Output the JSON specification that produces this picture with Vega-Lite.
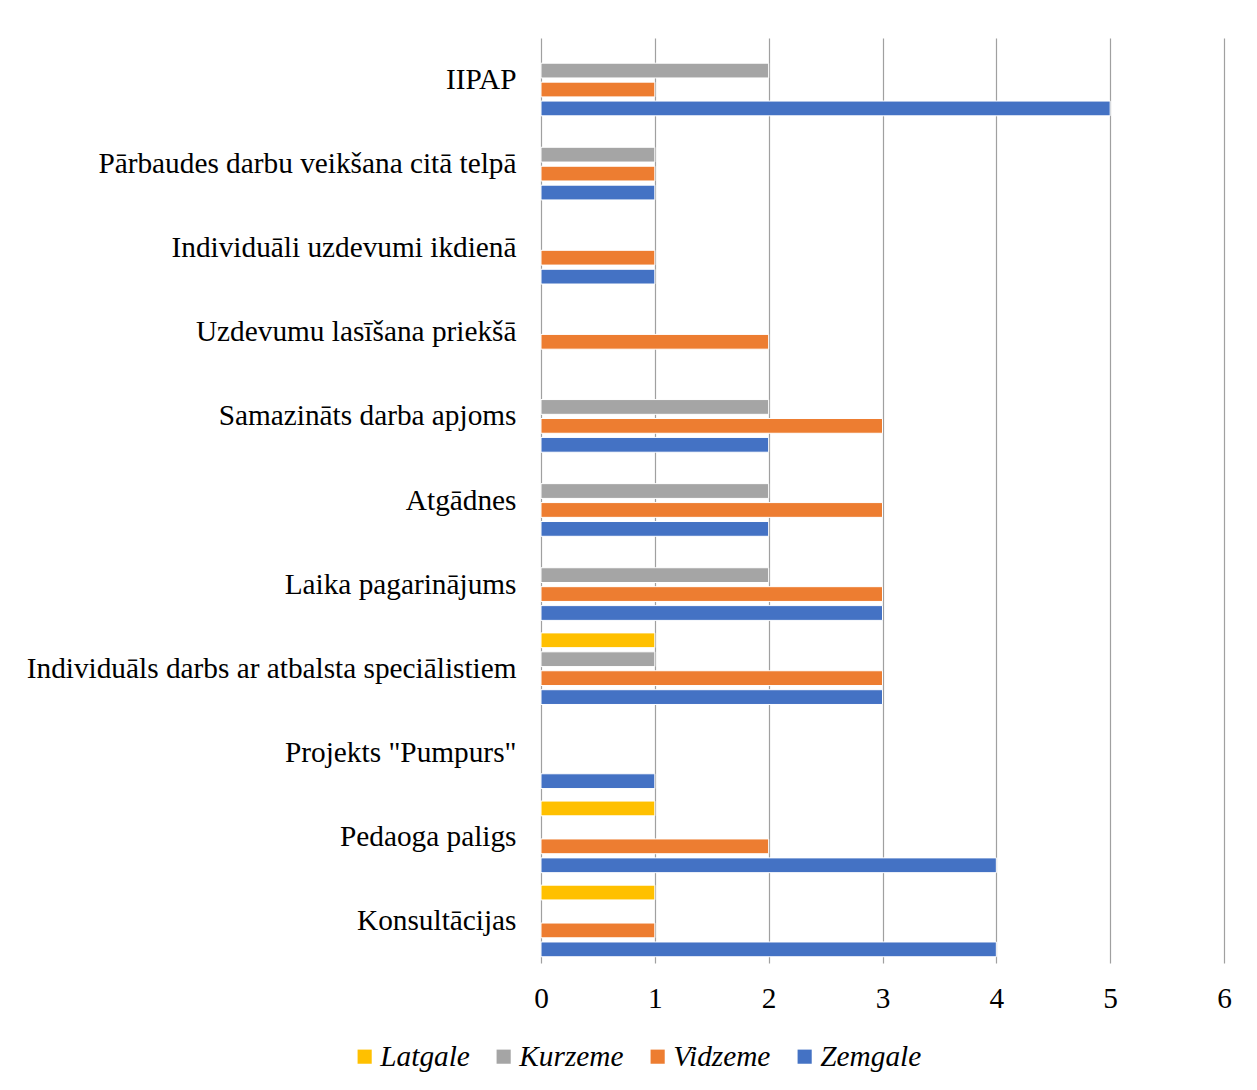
{
  "$schema": "https://vega.github.io/schema/vega-lite/v6.json",
  "width": 683,
  "height": 925,
  "autosize": {"type": "none"},
  "padding": {"left": 541, "top": 38, "right": 33, "bottom": 127},
  "background": "white",
  "config": {
    "view": {"stroke": null},
    "font": "Liberation Serif"
  },
  "data": {
    "values": [
      {"kategorija": "IIPAP", "regions": "Kurzeme", "skaits": 2},
      {"kategorija": "IIPAP", "regions": "Vidzeme", "skaits": 1},
      {"kategorija": "IIPAP", "regions": "Zemgale", "skaits": 5},
      {"kategorija": "Pārbaudes darbu veikšana citā telpā", "regions": "Kurzeme", "skaits": 1},
      {"kategorija": "Pārbaudes darbu veikšana citā telpā", "regions": "Vidzeme", "skaits": 1},
      {"kategorija": "Pārbaudes darbu veikšana citā telpā", "regions": "Zemgale", "skaits": 1},
      {"kategorija": "Individuāli uzdevumi ikdienā", "regions": "Vidzeme", "skaits": 1},
      {"kategorija": "Individuāli uzdevumi ikdienā", "regions": "Zemgale", "skaits": 1},
      {"kategorija": "Uzdevumu lasīšana priekšā", "regions": "Vidzeme", "skaits": 2},
      {"kategorija": "Samazināts darba apjoms", "regions": "Kurzeme", "skaits": 2},
      {"kategorija": "Samazināts darba apjoms", "regions": "Vidzeme", "skaits": 3},
      {"kategorija": "Samazināts darba apjoms", "regions": "Zemgale", "skaits": 2},
      {"kategorija": "Atgādnes", "regions": "Kurzeme", "skaits": 2},
      {"kategorija": "Atgādnes", "regions": "Vidzeme", "skaits": 3},
      {"kategorija": "Atgādnes", "regions": "Zemgale", "skaits": 2},
      {"kategorija": "Laika pagarinājums", "regions": "Kurzeme", "skaits": 2},
      {"kategorija": "Laika pagarinājums", "regions": "Vidzeme", "skaits": 3},
      {"kategorija": "Laika pagarinājums", "regions": "Zemgale", "skaits": 3},
      {"kategorija": "Individuāls darbs ar atbalsta speciālistiem", "regions": "Latgale", "skaits": 1},
      {"kategorija": "Individuāls darbs ar atbalsta speciālistiem", "regions": "Kurzeme", "skaits": 1},
      {"kategorija": "Individuāls darbs ar atbalsta speciālistiem", "regions": "Vidzeme", "skaits": 3},
      {"kategorija": "Individuāls darbs ar atbalsta speciālistiem", "regions": "Zemgale", "skaits": 3},
      {"kategorija": "Projekts \"Pumpurs\"", "regions": "Zemgale", "skaits": 1},
      {"kategorija": "Pedaoga paligs", "regions": "Latgale", "skaits": 1},
      {"kategorija": "Pedaoga paligs", "regions": "Vidzeme", "skaits": 2},
      {"kategorija": "Pedaoga paligs", "regions": "Zemgale", "skaits": 4},
      {"kategorija": "Konsultācijas", "regions": "Latgale", "skaits": 1},
      {"kategorija": "Konsultācijas", "regions": "Vidzeme", "skaits": 1},
      {"kategorija": "Konsultācijas", "regions": "Zemgale", "skaits": 4}
    ]
  },
  "mark": {"type": "bar", "stroke": "white", "strokeWidth": 1},
  "encoding": {
    "y": {
      "field": "kategorija",
      "type": "nominal",
      "sort": ["IIPAP", "Pārbaudes darbu veikšana citā telpā", "Individuāli uzdevumi ikdienā", "Uzdevumu lasīšana priekšā", "Samazināts darba apjoms", "Atgādnes", "Laika pagarinājums", "Individuāls darbs ar atbalsta speciālistiem", "Projekts \"Pumpurs\"", "Pedaoga paligs", "Konsultācijas"],
      "scale": {"paddingInner": 0, "paddingOuter": 0},
      "axis": {
        "title": null,
        "ticks": false,
        "domain": false,
        "labelFont": "Liberation Serif",
        "labelFontSize": 29.3,
        "labelColor": "black",
        "labelPadding": 25,
        "labelLimit": 600
      }
    },
    "yOffset": {
      "field": "regions",
      "type": "nominal",
      "scale": {"domain": ["Latgale", "Kurzeme", "Vidzeme", "Zemgale"], "paddingInner": 0.22, "paddingOuter": 0.33}
    },
    "x": {
      "field": "skaits",
      "type": "quantitative",
      "scale": {"domain": [0, 6], "nice": false},
      "axis": {
        "title": null,
        "values": [0, 1, 2, 3, 4, 5, 6],
        "ticks": false,
        "domain": false,
        "grid": true,
        "gridColor": "#A0A0A0",
        "gridWidth": 1.2,
        "labelFont": "Liberation Serif",
        "labelFontSize": 29.3,
        "labelColor": "black",
        "labelPadding": 21,
        "labelFlush": false
      }
    },
    "color": {
      "field": "regions",
      "type": "nominal",
      "scale": {
        "domain": ["Latgale", "Kurzeme", "Vidzeme", "Zemgale"],
        "range": ["#FFC000", "#A5A5A5", "#ED7D31", "#4472C4"]
      },
      "legend": {
        "title": null,
        "orient": "none",
        "direction": "horizontal",
        "legendX": -191,
        "legendY": 1004,
        "symbolType": "square",
        "symbolSize": 200,
        "symbolStrokeWidth": 0,
        "labelFont": "Liberation Serif",
        "labelFontStyle": "italic",
        "labelFontSize": 29.3,
        "labelColor": "black",
        "labelOffset": 1,
        "columnPadding": 19
      }
    }
  }
}
